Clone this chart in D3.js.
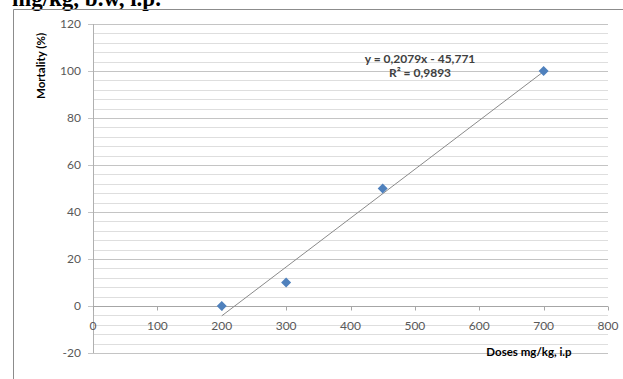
<!DOCTYPE html>
<html>
<head>
<meta charset="utf-8">
<script src="https://cdn.jsdelivr.net/npm/d3@7"></script>
<style>
  body { margin: 0; background: #fff; }
  svg { display: block; }
</style>
</head>
<body>
<div id="chart"></div>
<script>
const doses = [200, 300, 450, 700];
const mortality = [0, 10, 50, 100];
const xTicks = [0, 100, 200, 300, 400, 500, 600, 700, 800];
const yTicks = [-20, 0, 20, 40, 60, 80, 100, 120];
const trendSlope = 0.2079;
const trendIntercept = -45.771;
const trendRange = [200, 700];
const equationText = "y = 0,2079x - 45,771";
const r2Text = "R² = 0,9893";

let width = 623, height = 379;

let svg = d3.select("#chart")
    .append("svg")
    .attr("width", width)
    .attr("height", height);

// clipped caption from the page above the chart
svg.append("text")
    .attr("x", 12)
    .attr("y", 6)
    .style("font-family", "'Liberation Serif', 'DejaVu Serif', serif")
    .style("font-weight", "bold")
    .style("font-size", "23px")
    .text("mg/kg, b.w, i.p.");

// chart border
svg.append("path")
    .attr("d", `M13.5,${height} V9.5 H${width}`)
    .attr("fill", "none")
    .attr("stroke", "#8c8c8c")
    .attr("stroke-width", 1);

let x = d3.scaleLinear().domain([0, 800]).range([93, 608]);
let y = d3.scaleLinear().domain([-20, 120]).range([353, 24]);

// minor gridlines every 4
let minor = d3.range(-20, 121, 4).filter(function(v) { return v % 20 !== 0; });
svg.selectAll(".minor").data(minor).enter()
    .append("line")
    .attr("x1", x(0)).attr("x2", x(800))
    .attr("y1", function(d) { return Math.round(y(d)) + 0.5; })
    .attr("y2", function(d) { return Math.round(y(d)) + 0.5; })
    .attr("stroke", "#dedede");

svg.selectAll(".major").data(yTicks).enter()
    .append("line")
    .attr("x1", x(0) - 5).attr("x2", x(800))
    .attr("y1", function(d) { return Math.round(y(d)) + 0.5; })
    .attr("y2", function(d) { return Math.round(y(d)) + 0.5; })
    .attr("stroke", "#c4c4c4");

// y axis line
svg.append("line")
    .attr("x1", x(0) + 0.5).attr("x2", x(0) + 0.5)
    .attr("y1", y(120)).attr("y2", y(-20))
    .attr("stroke", "#b0b0b0");

// x axis line at y = 0
let y0 = Math.round(y(0)) + 0.5;
svg.append("line")
    .attr("x1", x(0)).attr("x2", x(800))
    .attr("y1", y0).attr("y2", y0)
    .attr("stroke", "#a6a6a6");

svg.selectAll(".xtick").data(xTicks).enter()
    .append("line")
    .attr("x1", function(d) { return Math.round(x(d)) + 0.5; })
    .attr("x2", function(d) { return Math.round(x(d)) + 0.5; })
    .attr("y1", y0).attr("y2", y0 + 4)
    .attr("stroke", "#a6a6a6");

let tickFont = "Lato, 'Open Sans', sans-serif";

svg.selectAll(".ylab").data(yTicks).enter()
    .append("text")
    .attr("x", 81)
    .attr("y", function(d) { return y(d) + 4; })
    .attr("text-anchor", "end")
    .style("font-family", tickFont)
    .style("font-size", "12px")
    .style("fill", "#595959")
    .text(function(d) { return d; });

svg.selectAll(".xlab").data(xTicks).enter()
    .append("text")
    .attr("x", function(d) { return x(d); })
    .attr("y", y(0) + 24)
    .attr("text-anchor", "middle")
    .style("font-family", tickFont)
    .style("font-size", "12px")
    .style("fill", "#595959")
    .text(function(d) { return d; });

// trendline
svg.append("line")
    .attr("x1", x(trendRange[0]))
    .attr("y1", y(trendSlope * trendRange[0] + trendIntercept))
    .attr("x2", x(trendRange[1]))
    .attr("y2", y(trendSlope * trendRange[1] + trendIntercept))
    .attr("stroke", "#8a8a8a")
    .attr("stroke-width", 1);

// diamond markers
let points = doses.map(function(d, i) { return [d, mortality[i]]; });
svg.selectAll(".pt").data(points).enter()
    .append("path")
    .attr("d", d3.symbol().type(d3.symbolDiamond2).size(64))
    .attr("transform", function(d) { return `translate(${x(d[0])},${y(d[1])})`; })
    .attr("fill", "#4f81bd");

// equation labels
svg.append("text")
    .attr("x", 420).attr("y", 63)
    .attr("text-anchor", "middle")
    .style("font-family", tickFont)
    .style("font-weight", "bold")
    .style("font-size", "12px")
    .style("fill", "#404040")
    .text(equationText);

svg.append("text")
    .attr("x", 420).attr("y", 77)
    .attr("text-anchor", "middle")
    .style("font-family", tickFont)
    .style("font-weight", "bold")
    .style("font-size", "12px")
    .style("fill", "#404040")
    .text(r2Text);

// axis titles
svg.append("text")
    .attr("x", 529).attr("y", 356)
    .attr("text-anchor", "middle")
    .style("font-family", tickFont)
    .style("font-weight", "bold")
    .style("font-size", "11.5px")
    .style("fill", "#000")
    .text("Doses mg/kg, i.p");

svg.append("text")
    .attr("transform", "translate(45, 66) rotate(-90)")
    .attr("text-anchor", "middle")
    .style("font-family", tickFont)
    .style("font-weight", "bold")
    .style("font-size", "11.5px")
    .style("fill", "#000")
    .text("Mortality (%)");
</script>
</body>
</html>
